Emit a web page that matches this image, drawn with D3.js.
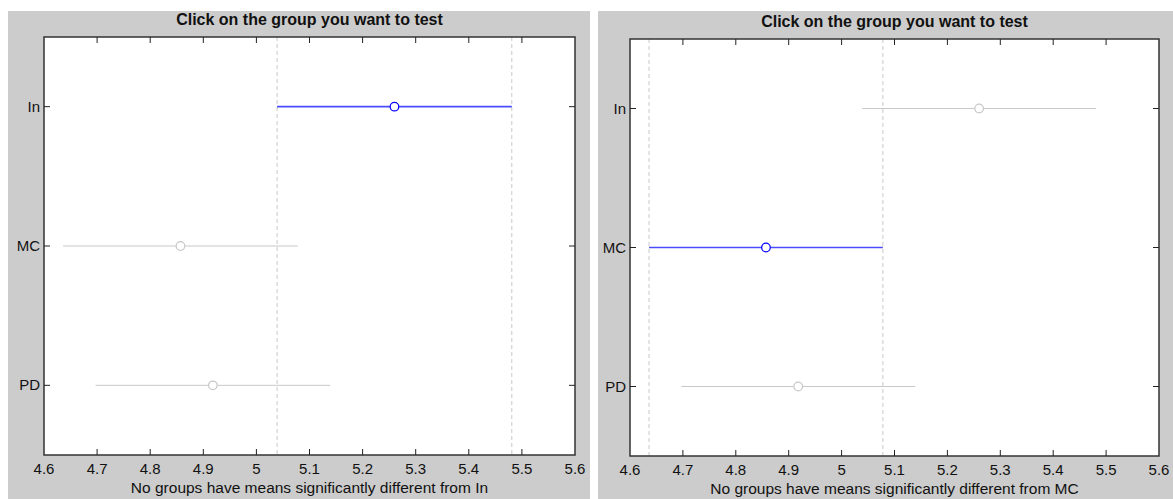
<!DOCTYPE html>
<html>
<head>
<meta charset="utf-8">
<script src="https://cdn.jsdelivr.net/npm/d3@7"></script>
<style>
  body { margin: 0; background: #fff; }
  svg { display: block; font-family: "Liberation Sans", Arial, sans-serif; }
</style>
</head>
<body>
<svg id="chart" width="1173" height="499"></svg>
<script>
// group names, means and interval half-widths
const groups = ["In", "MC", "PD"];
const means = [5.26, 4.857, 4.918];
const halfWidths = [0.221, 0.221, 0.221];
const xTicks = [4.6, 4.7, 4.8, 4.9, 5, 5.1, 5.2, 5.3, 5.4, 5.5, 5.6];
// which group is selected in each panel
const selected = ["In", "MC"];
const titleText = "Click on the group you want to test";

const svg = d3.select("#chart");

// panel frames (figure background + axes box)
const panels = [
  { bg: [8, 11, 582, 488], ax: { left: 44, top: 37, right: 575, bottom: 455 } },
  { bg: [598, 11, 575, 488], ax: { left: 630, top: 39, right: 1159, bottom: 456 } }
];

panels.forEach((p, pi) => {
  const sel = selected[pi];
  const selIdx = groups.indexOf(sel);
  const a = p.ax;

  svg.append("rect")
    .attr("x", p.bg[0]).attr("y", p.bg[1])
    .attr("width", p.bg[2]).attr("height", p.bg[3])
    .attr("fill", "#cccccc");

  const x = d3.scaleLinear().domain([4.6, 5.6]).range([a.left, a.right]);
  const y = d3.scaleLinear().domain([0.5, 3.5]).range([a.top, a.bottom]);

  const g = svg.append("g");

  g.append("rect")
    .attr("x", a.left).attr("y", a.top)
    .attr("width", a.right - a.left).attr("height", a.bottom - a.top)
    .attr("fill", "#fff");

  // dashed reference lines at the selected group's interval ends
  const lo = means[selIdx] - halfWidths[selIdx];
  const hi = means[selIdx] + halfWidths[selIdx];
  [lo, hi].forEach(v => {
    g.append("line")
      .attr("x1", x(v)).attr("x2", x(v))
      .attr("y1", a.top).attr("y2", a.bottom)
      .attr("stroke", "#c8c8c8")
      .attr("stroke-width", 1)
      .attr("stroke-dasharray", "4,3");
  });

  // intervals and means
  groups.forEach((name, i) => {
    const isSel = name === sel;
    const col = isSel ? "#0000ff" : "#c8c8c8";
    const yy = y(i + 1);
    g.append("line")
      .attr("x1", x(means[i] - halfWidths[i]))
      .attr("x2", x(means[i] + halfWidths[i]))
      .attr("y1", yy).attr("y2", yy)
      .attr("stroke", col)
      .attr("stroke-opacity", isSel ? 0.7 : 1)
      .attr("stroke-width", isSel ? 1.6 : 1);
    g.append("circle")
      .attr("cx", x(means[i])).attr("cy", yy)
      .attr("r", 4.3)
      .attr("fill", "#fff")
      .attr("stroke", col)
      .attr("stroke-width", 1.2);
  });

  // axes box
  g.append("rect")
    .attr("x", a.left).attr("y", a.top)
    .attr("width", a.right - a.left).attr("height", a.bottom - a.top)
    .attr("fill", "none")
    .attr("stroke", "#333")
    .attr("stroke-width", 1.5);

  // x ticks (inward, top and bottom) and labels
  xTicks.forEach(t => {
    const xx = x(t);
    if (t !== 4.6 && t !== 5.6) {
      g.append("line").attr("x1", xx).attr("x2", xx)
        .attr("y1", a.bottom).attr("y2", a.bottom - 6)
        .attr("stroke", "#222");
      g.append("line").attr("x1", xx).attr("x2", xx)
        .attr("y1", a.top).attr("y2", a.top + 6)
        .attr("stroke", "#222");
    }
    g.append("text")
      .attr("x", xx).attr("y", a.bottom + 19)
      .attr("text-anchor", "middle")
      .attr("font-size", 15)
      .attr("fill", "#111")
      .text(d3.format("")(t));
  });

  // y ticks and labels
  groups.forEach((name, i) => {
    const yy = y(i + 1);
    g.append("line").attr("x1", a.left).attr("x2", a.left + 6)
      .attr("y1", yy).attr("y2", yy).attr("stroke", "#222");
    g.append("line").attr("x1", a.right).attr("x2", a.right - 6)
      .attr("y1", yy).attr("y2", yy).attr("stroke", "#222");
    g.append("text")
      .attr("x", a.left - 4).attr("y", yy + 5)
      .attr("text-anchor", "end")
      .attr("font-size", 15)
      .attr("fill", "#111")
      .text(name);
  });

  // title
  g.append("text")
    .attr("x", (a.left + a.right) / 2).attr("y", a.top - 12)
    .attr("text-anchor", "middle")
    .attr("font-size", 16)
    .attr("font-weight", "bold")
    .attr("fill", "#111")
    .text(titleText);

  // x label
  g.append("text")
    .attr("x", (a.left + a.right) / 2).attr("y", a.bottom + 38)
    .attr("text-anchor", "middle")
    .attr("font-size", 15.5)
    .attr("fill", "#111")
    .text("No groups have means significantly different from " + sel);
});
</script>
</body>
</html>
